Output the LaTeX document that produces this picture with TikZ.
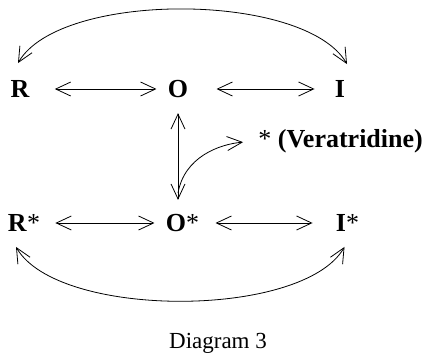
\documentclass[tikz,border=0pt]{standalone}
\usepackage{fontspec}
\setmainfont{Liberation Serif}
\usetikzlibrary{positioning,arrows.meta}

\begin{document}
\begin{tikzpicture}[x=1pt,y=1pt,>={Straight Barb[length=15pt,width=14pt]},line width=0.8pt,
  state/.style={font=\bfseries\fontsize{26}{30}\selectfont,inner sep=2pt},
  rxn/.style={<->}]
  \useasboundingbox (0,-356) rectangle (427,0);
  % 状態（上段）
  \node[state] (R) at (20,-89) {R};
  \node[state] (O) at (178,-89) {O};
  \node[state] (I) at (340,-89) {I};
  % 状態（下段）
  \node[state] (Rs) at (24,-223) {R\textmd{*}};
  \node[state] (Os) at (182.5,-223) {O\textmd{*}};
  \node[state] (Is) at (347.5,-223) {I\textmd{*}};
  \node[state,anchor=west] (vera) at (256,-141) {\textmd{*} (Veratridine)};
  % 横の平衡
  \draw[rxn,shorten <=23pt,shorten >=9pt] (R) -- (O);
  \draw[rxn,shorten <=26pt,shorten >=18pt] (O) -- (I);
  \draw[rxn,shorten <=13pt,shorten >=9pt] (Rs) -- (Os);
  \draw[rxn,shorten <=14pt,shorten >=21pt] (Os) -- (Is);
  % 縦の平衡と分岐
  \draw[rxn,shorten <=13pt,shorten >=12pt] (O.south) -- (O.south |- Os.north);
  \coordinate (split) at (178,-193);
  \draw[->,shorten >=13pt] (split) to[out=80,in=185] (vera.west);
  % 弧
  \draw[rxn] ([xshift=-2pt,yshift=15pt]R.north) to[out=60,in=120,looseness=0.65] ([xshift=7pt,yshift=14pt]I.north);
  \draw[rxn] ([xshift=-8pt,yshift=-13pt]Rs.south) to[out=-60,in=-120,looseness=0.65] ([xshift=-3pt,yshift=-13pt]Is.south);
  % 題
  \node[font=\fontsize{23}{27}\selectfont] (caption) at (218,-343) {Diagram 3};
\end{tikzpicture}
\end{document}
